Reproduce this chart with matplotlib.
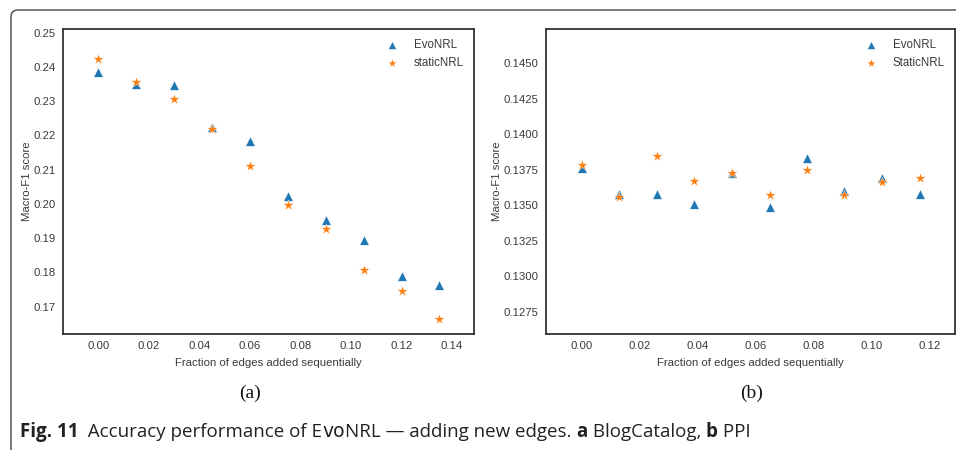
import matplotlib
matplotlib.use("Agg")
import matplotlib.pyplot as plt
from matplotlib.patches import FancyBboxPatch
from matplotlib.transforms import IdentityTransform

# ---------------- data ----------------
x_blog = [0.0, 0.015, 0.030, 0.045, 0.060, 0.075, 0.090, 0.105, 0.120, 0.135]
evo_blog = [0.2386, 0.2349, 0.2348, 0.2226, 0.2185, 0.2022, 0.1953, 0.1895, 0.1789, 0.1762]
static_blog = [0.2424, 0.2355, 0.2307, 0.2220, 0.2111, 0.1997, 0.1927, 0.1806, 0.1746, 0.1664]

x_ppi = [0.0, 0.0129, 0.0259, 0.0388, 0.0517, 0.0647, 0.0776, 0.0905, 0.1034, 0.1164]
evo_ppi = [0.13765, 0.13579, 0.13581, 0.13507, 0.13727, 0.13488, 0.13833, 0.13598, 0.13692, 0.13581]
static_ppi = [0.13784, 0.13556, 0.13847, 0.13671, 0.13725, 0.13572, 0.13746, 0.13572, 0.13666, 0.13694]

xticks_blog = [0.00, 0.02, 0.04, 0.06, 0.08, 0.10, 0.12, 0.14]
yticks_blog = [0.17, 0.18, 0.19, 0.20, 0.21, 0.22, 0.23, 0.24, 0.25]
xticks_ppi = [0.00, 0.02, 0.04, 0.06, 0.08, 0.10, 0.12]
yticks_ppi = [0.1275, 0.1300, 0.1325, 0.1350, 0.1375, 0.1400, 0.1425, 0.1450]

labels_blog = ["EvoNRL", "staticNRL"]
labels_ppi = ["EvoNRL", "StaticNRL"]

BLUE = "#1f77b4"
ORANGE = "#ff7f0e"
TXT = "#3a3a3a"

plt.rcParams["font.family"] = ["Liberation Sans", "DejaVu Sans"]

W, H = 956, 450
fig = plt.figure(figsize=(W / 100, H / 100), dpi=100)
fig.patch.set_facecolor("white")


def make_ax(rect, xs, evo, stat, labels, xt, yt, xlim, ylim, yfmt):
    ax = fig.add_axes(rect)
    ax.scatter(xs, evo, marker="^", s=48, color=BLUE, edgecolor="white",
               linewidth=0.4, label=labels[0], zorder=3)
    ax.scatter(xs, stat, marker="*", s=62, color=ORANGE, edgecolor="white",
               linewidth=0.25, label=labels[1], zorder=4)
    ax.set_xlim(*xlim)
    ax.set_ylim(*ylim)
    ax.set_xticks(xt)
    ax.set_xticklabels(["%.2f" % v for v in xt])
    ax.set_yticks(yt)
    ax.set_yticklabels([yfmt % v for v in yt])
    ax.tick_params(length=0, labelsize=8.2, labelcolor=TXT, pad=5)
    for sp in ax.spines.values():
        sp.set_color("#333333")
        sp.set_linewidth(1.3)
    ax.set_xlabel("Fraction of edges added sequentially", fontsize=8.2, color=TXT, labelpad=5)
    ax.set_ylabel("Macro-F1 score", fontsize=8.2, color=TXT)
    leg = ax.legend(loc="upper right", frameon=False, fontsize=8.3,
                    handletextpad=0.9, labelspacing=0.5, borderaxespad=0.45,
                    borderpad=0.4, scatterpoints=1, markerscale=0.85)
    for t in leg.get_texts():
        t.set_color(TXT)
    return ax


ax1 = make_ax([63 / W, 1 - 334 / H, (474 - 63) / W, (334 - 29) / H],
              x_blog, evo_blog, static_blog, labels_blog, xticks_blog, yticks_blog,
              (-0.0140, 0.1487), (0.1620, 0.2511), "%.2f")
ax1.yaxis.set_label_coords(-0.075, 0.5)

ax2 = make_ax([545.7 / W, 1 - 334 / H, (954.7 - 545.7) / W, (334 - 29) / H],
              x_ppi, evo_ppi, static_ppi, labels_ppi, xticks_ppi, yticks_ppi,
              (-0.0124, 0.1285), (0.12593, 0.14742), "%.4f")
ax2.yaxis.set_label_coords(-0.107, 0.5)

# sub-figure labels
fig.text(250 / W, 1 - 393 / H, "(a)", family=["Liberation Serif", "DejaVu Serif"],
         fontsize=14, ha="center", va="center", color="#111111")
fig.text(752 / W, 1 - 393 / H, "(b)", family=["Liberation Serif", "DejaVu Serif"],
         fontsize=14, ha="center", va="center", color="#111111")

# outer frame (rounded corner top-left)
frame = FancyBboxPatch((11, -60), 1100, H - 10 + 60,
                       boxstyle="round,pad=0,rounding_size=7",
                       transform=IdentityTransform(), facecolor="none",
                       edgecolor="#555555", linewidth=1.1, clip_on=False)
fig.patches.append(frame)

# caption with mixed weights
cap_family = ["Open Sans", "DejaVu Sans"]
pieces = [("Fig. 11", "bold"), ("  Accuracy performance of E", "normal"),
          ("ᴠᴏ", "normal"), ("NRL \u2014 adding new edges. ", "normal"),
          ("a", "bold"), (" BlogCatalog, ", "normal"), ("b", "bold"), (" PPI", "normal")]
renderer = fig.canvas.get_renderer()
target_w = 749 - 20
fs = 11.0
for _ in range(2):
    total = 0
    texts = []
    for s, w in pieces:
        t = fig.text(0, 0, s, fontsize=fs, weight=w, family=cap_family)
        total += t.get_window_extent(renderer).width
        texts.append(t)
    for t in texts:
        t.remove()
    fs = fs * target_w / total

xpix = 20
base_y = 1 - 437 / H
for s, w in pieces:
    t = fig.text(xpix / W, base_y, s, fontsize=fs, weight=w, family=cap_family,
                 color="#222222", va="baseline", ha="left")
    xpix += t.get_window_extent(renderer).width

fig.savefig("out.png", dpi=100, facecolor="white")
